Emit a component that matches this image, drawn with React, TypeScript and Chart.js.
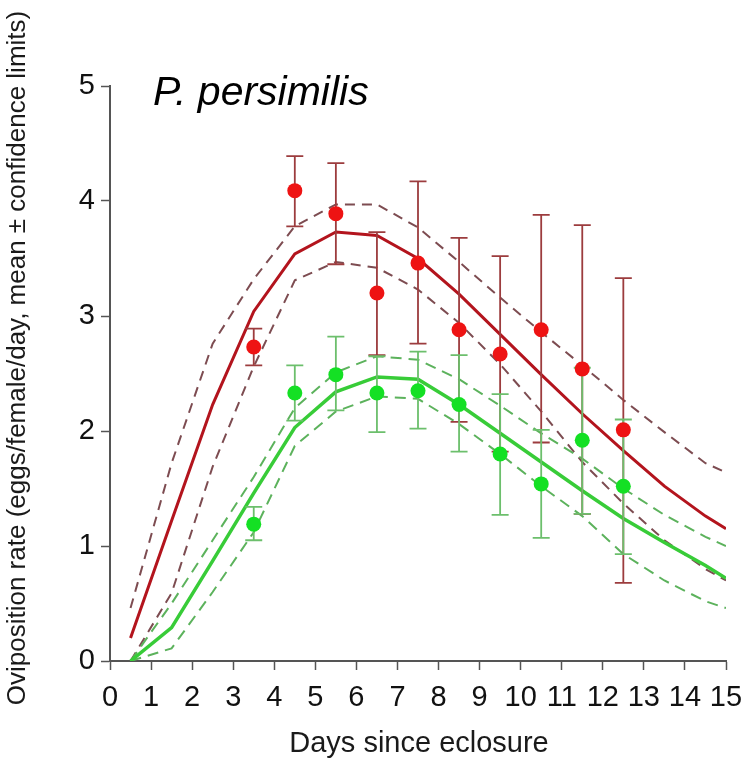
import React, { useEffect, useRef } from "react";
import { Chart, registerables } from "chart.js";

Chart.register(...registerables);

// ---- Data ----
const curveDays = [0.5, 1.5, 2.5, 3.5, 4.5, 5.5, 6.5, 7.5, 8.5, 9.5, 10.5, 11.5, 12.5, 13.5, 14.5, 15];

const redFit = [0.2, 1.22, 2.23, 3.04, 3.54, 3.73, 3.7, 3.5, 3.19, 2.84, 2.49, 2.15, 1.83, 1.52, 1.26, 1.15];
const redFitUpper = [0.46, 1.72, 2.76, 3.32, 3.78, 3.97, 3.97, 3.77, 3.47, 3.16, 2.86, 2.57, 2.27, 1.99, 1.72, 1.64];
const redFitLower = [0.0, 0.59, 1.69, 2.56, 3.31, 3.47, 3.42, 3.23, 2.94, 2.58, 2.17, 1.73, 1.37, 1.05, 0.8, 0.7];

const greenFit = [0.0, 0.29, 0.87, 1.46, 2.03, 2.34, 2.47, 2.45, 2.23, 1.98, 1.73, 1.48, 1.24, 1.03, 0.83, 0.72];
const greenFitUpper = [0.0, 0.5, 1.05, 1.6, 2.2, 2.51, 2.65, 2.62, 2.45, 2.22, 1.98, 1.76, 1.5, 1.27, 1.08, 1.0];
const greenFitLower = [0.0, 0.11, 0.6, 1.12, 1.87, 2.17, 2.3, 2.28, 2.06, 1.8, 1.52, 1.26, 0.93, 0.7, 0.52, 0.46];

const obsDays = [3.5, 4.5, 5.5, 6.5, 7.5, 8.5, 9.5, 10.5, 11.5, 12.5];

const redMean = [2.73, 4.09, 3.89, 3.2, 3.46, 2.88, 2.67, 2.88, 2.54, 2.01];
const redUpper = [2.89, 4.39, 4.33, 3.73, 4.17, 3.68, 3.52, 3.88, 3.79, 3.33];
const redLower = [2.57, 3.78, 3.45, 2.66, 2.76, 2.08, 1.82, 1.9, 1.28, 0.68];

const greenMean = [1.19, 2.33, 2.49, 2.33, 2.35, 2.23, 1.8, 1.54, 1.92, 1.52];
const greenUpper = [1.34, 2.57, 2.82, 2.65, 2.69, 2.66, 2.32, 2.01, 2.55, 2.1];
const greenLower = [1.05, 2.09, 2.18, 1.99, 2.02, 1.82, 1.27, 1.07, 1.28, 0.93];

const xTickLabels = ["0", "1", "2", "3", "4", "5", "6", "7", "8", "9", "10", "11", "12", "13", "14", "15"];
const yTickLabels = ["0", "1", "2", "3", "4", "5"];

const speciesLabel = "P. persimilis";
const xTitle = "Days since eclosure";
const yTitle = "Oviposition rate (eggs/female/day, mean \u00b1 confidence limits)";

const FONT = "'Liberation Sans', Arial, Helvetica, sans-serif";

const toXY = (xs: number[], ys: number[]) => xs.map((x, i) => ({ x, y: ys[i] }));

export default function App() {
  const ref = useRef<HTMLCanvasElement>(null);

  useEffect(() => {
    document.body.style.margin = "0";
    const canvas = ref.current;
    if (!canvas) return;

    const RED_POINTS = 6;

    const errorBars = {
      id: "errorBars",
      beforeDatasetDraw(chart: any, args: any) {
        if (args.index !== RED_POINTS) return;
        const xs = chart.scales.x;
        const ys = chart.scales.y;
        const ctx = chart.ctx;
        const groups = [
          { lo: redLower, hi: redUpper, color: "#9c3c3e" },
          { lo: greenLower, hi: greenUpper, color: "#6cbf6c" },
        ];
        ctx.save();
        ctx.lineWidth = 1.8;
        for (const g of groups) {
          ctx.strokeStyle = g.color;
          obsDays.forEach((d, i) => {
            const px = xs.getPixelForValue(d);
            const top = ys.getPixelForValue(g.hi[i]);
            const bot = ys.getPixelForValue(g.lo[i]);
            ctx.beginPath();
            ctx.moveTo(px, top);
            ctx.lineTo(px, bot);
            ctx.moveTo(px - 8.5, top);
            ctx.lineTo(px + 8.5, top);
            ctx.moveTo(px - 8.5, bot);
            ctx.lineTo(px + 8.5, bot);
            ctx.stroke();
          });
        }
        ctx.restore();
      },
    };

    const texts = {
      id: "texts",
      afterDraw(chart: any) {
        const ctx = chart.ctx;
        ctx.save();
        ctx.fillStyle = "#000";
        ctx.font = `italic 41px ${FONT}`;
        ctx.textAlign = "left";
        ctx.textBaseline = "alphabetic";
        ctx.fillText(speciesLabel, 153, 105);

        ctx.fillStyle = "#1a1a1a";
        ctx.font = `29px ${FONT}`;
        ctx.textAlign = "center";
        ctx.fillText(xTitle, 419, 752);

        ctx.font = `26px ${FONT}`;
        ctx.translate(18, 358);
        ctx.rotate(-Math.PI / 2);
        ctx.textBaseline = "middle";
        ctx.fillText(yTitle, 0, 0);
        ctx.restore();
      },
    };

    const lineDs = (data: number[], color: string, width: number, dash: number[], order: number) => ({
      type: "line" as const,
      data: toXY(curveDays, data),
      borderColor: color,
      borderWidth: width,
      borderDash: dash,
      pointRadius: 0,
      fill: false,
      tension: 0,
      showLine: true,
      order,
    });

    const chart = new Chart(canvas, {
      type: "scatter",
      data: {
        datasets: [
          lineDs(redFitUpper, "#7d4c51", 2, [10, 7], 20),
          lineDs(redFitLower, "#7d4c51", 2, [10, 7], 19),
          lineDs(redFit, "#b3141d", 3, [], 18),
          lineDs(greenFitUpper, "#5cb25c", 2, [11, 7], 17),
          lineDs(greenFitLower, "#5cb25c", 2, [11, 7], 16),
          lineDs(greenFit, "#38cc38", 3.5, [], 15),
          {
            type: "scatter" as const,
            data: toXY(obsDays, redMean),
            backgroundColor: "#ee1313",
            borderColor: "#ee1313",
            borderWidth: 0,
            pointRadius: 7.5,
            showLine: false,
            order: 2,
          },
          {
            type: "scatter" as const,
            data: toXY(obsDays, greenMean),
            backgroundColor: "#14e024",
            borderColor: "#14e024",
            borderWidth: 0,
            pointRadius: 7.5,
            showLine: false,
            order: 1,
          },
        ],
      },
      options: {
        animation: false,
        responsive: false,
        devicePixelRatio: 1,
        events: [],
        layout: { padding: { top: 86, right: 17, left: 0, bottom: 0 } },
        plugins: { legend: { display: false }, tooltip: { enabled: false }, title: { display: false } },
        scales: {
          x: {
            type: "linear",
            min: 0,
            max: 15,
            afterFit: (s: any) => {
              s.height = 103;
            },
            ticks: {
              stepSize: 1,
              autoSkip: false,
              maxRotation: 0,
              minRotation: 0,
              padding: 0,
              color: "#111",
              font: { family: FONT, size: 29, lineHeight: 1.9 },
              callback: (v: any) => xTickLabels[Math.round(Number(v))] ?? "",
            },
            grid: {
              display: true,
              drawOnChartArea: false,
              drawTicks: true,
              tickLength: 9,
              tickWidth: 1.5,
              tickColor: "#555",
            },
            border: { display: true, color: "#555", width: 2 },
          },
          y: {
            type: "linear",
            min: 0,
            max: 5,
            afterFit: (s: any) => {
              s.width = 110;
            },
            ticks: {
              stepSize: 1,
              autoSkip: false,
              padding: 6,
              color: "#111",
              font: { family: FONT, size: 29 },
              callback: (v: any) => yTickLabels[Math.round(Number(v))] ?? "",
            },
            grid: {
              display: true,
              drawOnChartArea: false,
              drawTicks: true,
              tickLength: 9,
              tickWidth: 1.5,
              tickColor: "#555",
            },
            border: { display: true, color: "#555", width: 2 },
          },
        },
      },
      plugins: [errorBars, texts],
    } as any);

    return () => chart.destroy();
  }, []);

  return (
    <div style={{ position: "absolute", left: 0, top: 0, width: 743, height: 764, background: "#fff" }}>
      <canvas ref={ref} width={743} height={764} style={{ display: "block", width: 743, height: 764 }} />
    </div>
  );
}
